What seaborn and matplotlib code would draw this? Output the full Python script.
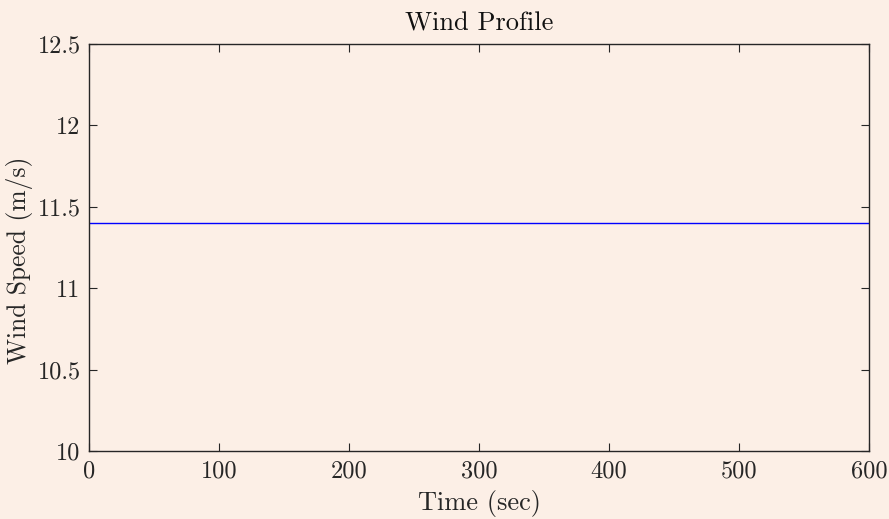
import matplotlib
matplotlib.use("Agg")
import matplotlib.pyplot as plt
import seaborn as sns
import pandas as pd

time_sec = [0, 600]
wind_speed = [11.4, 11.4]
x_ticks = [0, 100, 200, 300, 400, 500, 600]
y_ticks = [10, 10.5, 11, 11.5, 12, 12.5]
y_tick_labels = ["10", "10.5", "11", "11.5", "12", "12.5"]

bg = "#FCEFE6"
txt = "#262626"

sns.set_theme(style="ticks")
plt.rcParams["font.family"] = ["cmr10", "DejaVu Serif"]
plt.rcParams["axes.formatter.use_mathtext"] = True

df = pd.DataFrame({"Time": time_sec, "Speed": wind_speed})

fig = plt.figure(figsize=(8.89, 5.19), dpi=100, facecolor=bg)
ax = fig.add_axes([89/889, 1-451/519, (869-89)/889, (451-44)/519])
ax.set_facecolor(bg)

sns.lineplot(data=df, x="Time", y="Speed", ax=ax, color="#0000FF", linewidth=1.0)

ax.set_xlim(0, 600)
ax.set_ylim(10, 12.5)
ax.set_xticks(x_ticks)
ax.set_xticklabels([str(t) for t in x_ticks])
ax.set_yticks(y_ticks)
ax.set_yticklabels(y_tick_labels)

for s in ax.spines.values():
    s.set_visible(True)
    s.set_color(txt)
    s.set_linewidth(1.0)

ax.tick_params(axis="both", direction="in", length=6, width=0.8, color=txt,
               labelsize=17.5, labelcolor=txt, top=True, right=True)
ax.tick_params(axis="x", pad=7)
ax.tick_params(axis="y", pad=6)

ax.set_xlabel("Time (sec)", fontsize=19, color=txt, labelpad=5)
ax.set_ylabel("Wind Speed (m/s)", fontsize=18.3, color=txt)
ax.yaxis.set_label_coords(-0.0718, 0.469)
ax.set_title("Wind Profile", fontsize=19, color="#111111", pad=10)

fig.savefig("out.png", dpi=100, facecolor=bg)
